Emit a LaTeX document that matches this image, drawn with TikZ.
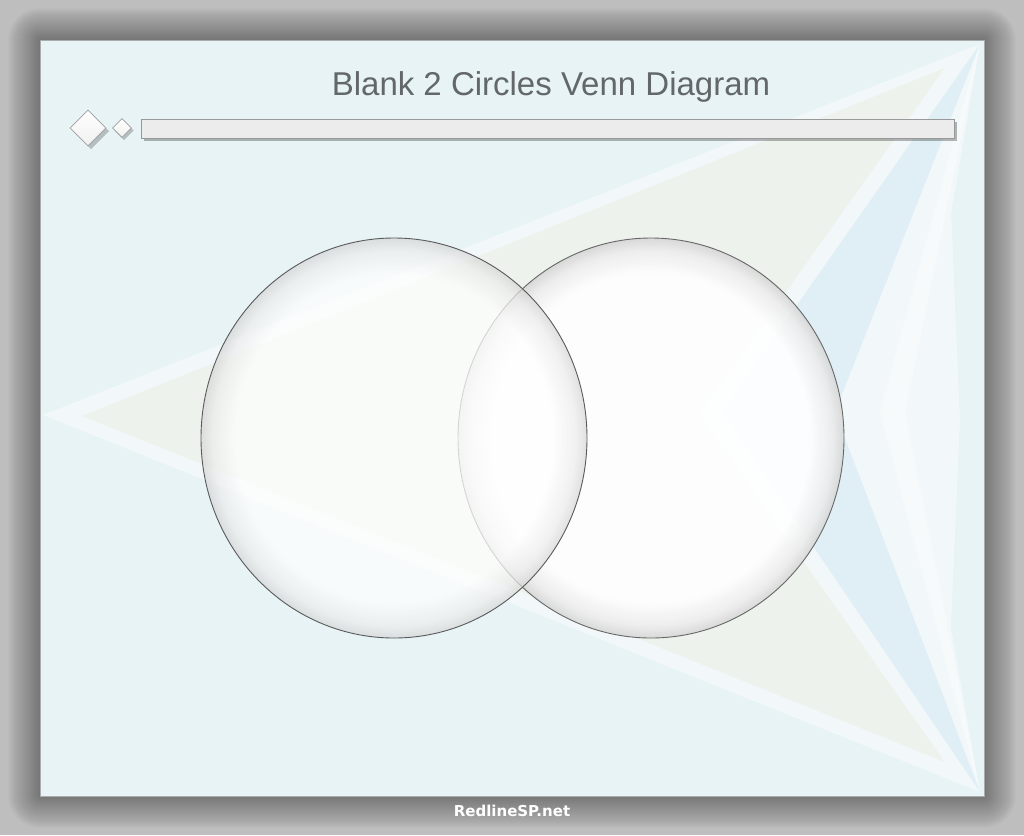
\documentclass[tikz,border=0pt]{standalone}
\usepackage{fontspec}
\setmainfont{Liberation Sans}
\newfontfamily\footfont{DejaVu Sans}
\usetikzlibrary{shapes.geometric}
\definecolor{bggray}{HTML}{BEBEBE}
\definecolor{slidecol}{HTML}{E7F3F5}
\definecolor{bandcol}{HTML}{F2F8FA}
\definecolor{greencol}{HTML}{EDF3EC}
\definecolor{bluecol}{HTML}{E0EFF5}
\definecolor{titlegray}{HTML}{63676A}
\definecolor{rimgray}{HTML}{D6D6D6}
\definecolor{edgegray}{HTML}{5A5A5A}
\definecolor{barfill}{HTML}{ECECEC}
\pgfdeclareradialshading{rimshade}{\pgfpoint{0bp}{0bp}}{color(0bp)=(white); color(20.5bp)=(white); color(23.5bp)=(rimgray!45); color(25bp)=(rimgray); color(50bp)=(rimgray)}
\tikzset{
  venn/.style={ellipse, minimum width=386pt, minimum height=400pt, inner sep=0pt,
    draw=edgegray, line width=0.9pt, shade, shading=rimshade},
  deco/.style={diamond, aspect=1, inner sep=0pt, draw=gray!75, line width=0.8pt,
    top color=white, bottom color=gray!12},
  shadowcol/.style={fill=black, opacity=0.22},
}
\begin{document}
\begin{tikzpicture}[x=1pt,y=-1pt]
\useasboundingbox (0,0) rectangle (1024,835);
% page background
\fill[bggray] (0,0) rectangle (1024,835);
% soft shadow around slide
\foreach \i in {1,...,32}{
  \fill[black, opacity=0.012, rounded corners=\i pt] (40-\i,40-\i) rectangle (984+\i,796+\i);
}
% slide
\fill[slidecol] (40,40) rectangle (984,796);
\begin{scope}
  \clip (40,40) rectangle (984,796);
  \fill[bandcol] (43,415) -- (980,44) -- (915,425) -- (980,792) -- cycle;
  \fill[greencol] (82,416) -- (945,68) -- (700,414) -- (945,762) -- cycle;
  \fill[bandcol] (945,68) -- (700,414) -- (945,762) -- (960,420) -- cycle;
  \fill[bluecol] (980,44) -- (722,412) -- (980,792) -- (835,412) -- cycle;
  \fill[white, opacity=0.35] (980,44) -- (880,412) -- (980,792) -- (905,412) -- cycle;
\end{scope}
\draw[gray!65, line width=0.6pt] (40,40) rectangle (984,796);
% title
\node[font=\fontsize{33}{40}\selectfont, text=titlegray, anchor=base] (title) at (551,95) {Blank 2 Circles Venn Diagram};
% header decorations
\fill[shadowcol] (91,113) -- (109,131) -- (91,149) -- (73,131) -- cycle;
\node[deco, minimum width=36pt, minimum height=36pt] (bigd) at (88,128) {};
\fill[shadowcol] (124,121) -- (133.5,130.5) -- (124,140) -- (114.5,130.5) -- cycle;
\node[deco, minimum width=19pt, minimum height=19pt] (smalld) at (122,128) {};
\fill[black, opacity=0.28] (144,122) rectangle (957,141);
\node[draw=gray!80, line width=0.8pt, fill=barfill, minimum width=813pt, minimum height=19pt, inner sep=0pt, anchor=north west] (bar) at (141,119) {};
% Venn circles
\node[venn, opacity=0.9] (R) at (651,438) {};
\node[venn, fill opacity=0.72, draw opacity=1] (L) at (394,438) {};
% footer
\node[font=\footfont\bfseries\fontsize{15}{18}\selectfont, text=white, anchor=base] (foot) at (512,816) {RedlineSP.net};
\end{tikzpicture}
\end{document}
